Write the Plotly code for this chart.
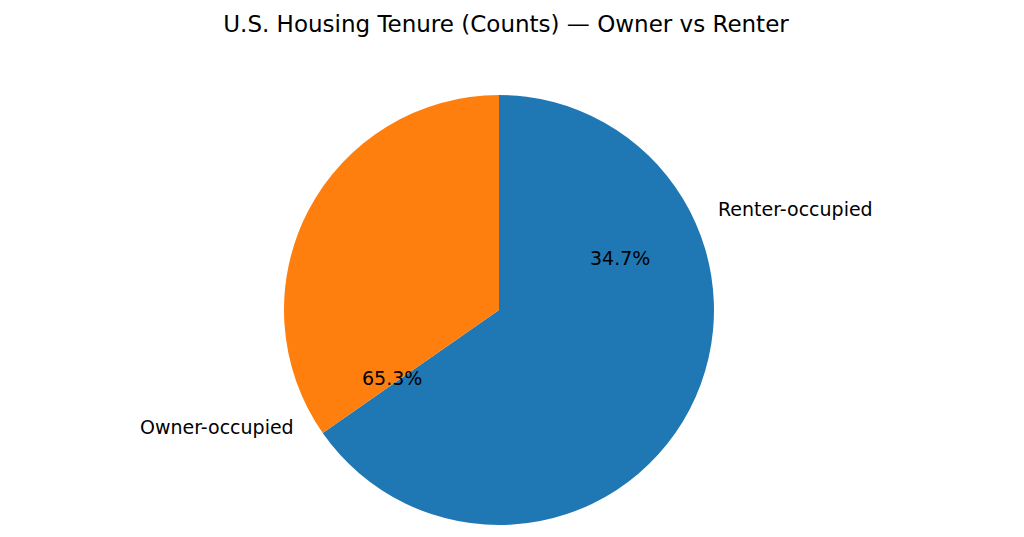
import math
import plotly.graph_objects as go

labels = ["Owner-occupied", "Renter-occupied"]
shares = [65.3, 34.7]
colors = ["#1f77b4", "#ff7f0e"]

W, H = 1024, 537
cx, cy, r = 498, 310, 215
ox, oy = 7, 8  # renderer offset correction
dom_x = [(cx - ox - r) / W, (cx - ox + r) / W]
dom_y = [1 - (cy - oy + r) / H, 1 - (cy - oy - r) / H]

fig = go.Figure(go.Pie(labels=labels, values=shares, sort=False, direction="clockwise",
                       rotation=0, marker=dict(colors=colors), textinfo="none",
                       hoverinfo="label+percent", showlegend=False,
                       domain=dict(x=dom_x, y=dom_y)))

ann = []
total = sum(shares)
start = 90.0
font = dict(family="DejaVu Sans", size=19, color="black")
for lab, v in zip(labels, shares):
    span = v / total * 360
    mid = math.radians(start + span / 2)
    start += span
    lx, ly = cx + 1.1 * r * math.cos(mid), cy - 1.1 * r * math.sin(mid)
    px, py = cx + 0.6 * r * math.cos(mid), cy - 0.6 * r * math.sin(mid)
    ann.append(dict(x=lx / W, y=1 - ly / H, xref="paper", yref="paper", text=lab, showarrow=False,
                    xanchor="left" if math.cos(mid) > 0 else "right", yanchor="middle", font=font))
    ann.append(dict(x=px / W, y=1 - py / H, xref="paper", yref="paper", text=f"{v / total * 100:.1f}%",
                    showarrow=False, xanchor="center", yanchor="middle", font=font))

fig.update_layout(width=W, height=H, margin=dict(l=0, r=0, t=0, b=0), paper_bgcolor="white",
                  annotations=ann,
                  title=dict(text="U.S. Housing Tenure (Counts) — Owner vs Renter", x=498 / W, xanchor="center",
                             y=1 - 16 / H, yanchor="middle",
                             font=dict(family="DejaVu Sans", size=23, color="black")))
fig.write_html("out.html")
